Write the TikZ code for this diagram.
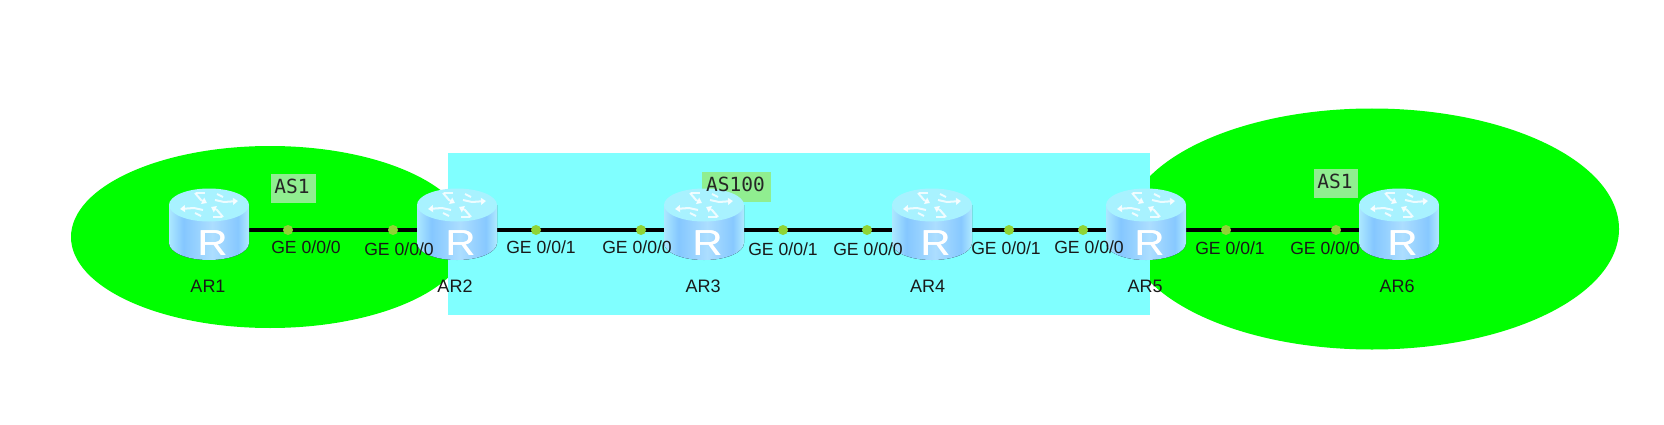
\documentclass[tikz,border=0pt]{standalone}
\usepackage{fontspec}
\setmainfont{Liberation Sans}
\newfontfamily\monofam{DejaVu Sans Mono}
\usetikzlibrary{arrows.meta}
\definecolor{zonegreen}{HTML}{00FF00}
\definecolor{zonecyan}{HTML}{80FFFF}
\definecolor{tagbg}{HTML}{90EE90}
\definecolor{portc}{HTML}{8FD435}
\definecolor{rtop}{HTML}{A8F2FF}
\pgfdeclarehorizontalshading{rbody}{100bp}{
  rgb(0bp)=(.675,.91,1);
  rgb(25bp)=(.675,.91,1);
  rgb(34bp)=(.52,.78,1);
  rgb(52bp)=(.675,.87,1);
  rgb(68bp)=(.53,.785,1);
  rgb(75bp)=(.69,.92,1);
  rgb(100bp)=(.69,.92,1)}
\tikzset{
  anchorbox/.style={minimum width=80pt,minimum height=16pt,inner sep=0pt,outer sep=0pt},
  link/.style={black,line width=3.3pt},
  portdot/.style={circle,fill=portc,minimum size=10pt,inner sep=0pt,outer sep=0pt},
  portlabel/.style={font=\fontsize{17.6}{20}\selectfont,inner sep=0pt,text=black!90},
  devlabel/.style={font=\fontsize{18}{20}\selectfont,inner sep=0pt,text=black!90},
  astag/.style={fill=tagbg,inner sep=0pt},
  astext/.style={inner sep=0pt,font=\monofam\fontsize{19.5}{22}\selectfont,text=black!85},
  rarrow/.style={white,opacity=.8,line width=2pt,-{Triangle[length=5pt,width=7pt]}},
  rstroke/.style={white,opacity=.8,line width=2pt},
  rletter/.style={text=white,inner sep=0pt,font=\fontsize{36}{36}\selectfont,xscale=1.15},
}
\newcommand{\routergfx}[1]{%
  \begin{scope}[shift={(#1)}]
    \fill[shading=rbody]
      (-40,-25) -- (-40,13) arc[start angle=180,end angle=0,x radius=40,y radius=17] -- (40,-25) -- cycle;
    \fill[rtop] (0,-25) ellipse[x radius=40,y radius=16.5];
    \draw[rarrow] (6,-30) -- (15,-28) -- (29,-29);
    \draw[rarrow] (-6,-20) -- (-15,-22) -- (-29,-21);
    \draw[rarrow] (-14,-37) -- (-8,-30) -- (-2,-27);
    \draw[rarrow] (14,-13) -- (8,-20) -- (2,-23);
    \draw[rstroke] (-13,-37) -- (-4,-37);
    \draw[rstroke] (13,-13) -- (4,-13);
    \draw[rstroke] (8,-36) -- (14,-33);
    \draw[rstroke] (-8,-14) -- (-14,-17);
    \node[rletter] at (3.3,13) {R};
    \node[rletter] at (3.9,13) {R};
  \end{scope}}
\begin{document}
\begin{tikzpicture}[x=1pt,y=-1pt]
\useasboundingbox (0,0) rectangle (1664,425);
\fill[white] (0,0) rectangle (1664,425);
\fill[zonegreen] (270,237) ellipse[x radius=199,y radius=91];
\fill[zonegreen] (1372,229) ellipse[x radius=247,y radius=120.5];
\fill[zonecyan] (448,153) rectangle (1150,315);

\node[astag,minimum width=45pt,minimum height=29pt] (tag1) at (293.5,188.5) {};
\node[astag,minimum width=69pt,minimum height=30pt] (tag2) at (736.5,187) {};
\node[astag,minimum width=44pt,minimum height=29pt] (tag3) at (1336,183.5) {};

\node[anchorbox] (AR1) at (209,230) {};
\node[anchorbox] (AR2) at (457,230) {};
\node[anchorbox] (AR3) at (704,230) {};
\node[anchorbox] (AR4) at (932,230) {};
\node[anchorbox] (AR5) at (1146,230) {};
\node[anchorbox] (AR6) at (1399,230) {};

\draw[link] (AR1.east) -- (AR2.west);
\draw[link] (AR2.east) -- (AR3.west);
\draw[link] (AR3.east) -- (AR4.west);
\draw[link] (AR4.east) -- (AR5.west);
\draw[link] (AR5.east) -- (AR6.west);

\routergfx{209,230}
\routergfx{457,230}
\routergfx{704,230}
\routergfx{932,230}
\routergfx{1146,230}
\routergfx{1399,230}

\node[astext] (t1) at (292,186.5) {AS1};
\node[astext] (t2) at (735.5,184.5) {AS100};
\node[astext] (t3) at (1335,181.5) {AS1};

\foreach \n/\x in {p1/288,p2/393,p3/536,p4/641,p5/783,p6/867,p7/1009,p8/1083,p9/1226,p10/1336}
  \node[portdot] (\n) at (\x,230) {};

\node[portlabel] (l1) at (306,247) {GE 0/0/0};
\node[portlabel] (l2) at (399,249) {GE 0/0/0};
\node[portlabel] (l3) at (541,247) {GE 0/0/1};
\node[portlabel] (l4) at (637,247) {GE 0/0/0};
\node[portlabel] (l5) at (783,249) {GE 0/0/1};
\node[portlabel] (l6) at (868,249) {GE 0/0/0};
\node[portlabel] (l7) at (1006,248) {GE 0/0/1};
\node[portlabel] (l8) at (1089,247) {GE 0/0/0};
\node[portlabel] (l9) at (1230,248) {GE 0/0/1};
\node[portlabel] (l10) at (1325,248) {GE 0/0/0};

\node[devlabel] (n1) at (208,286) {AR1};
\node[devlabel] (n2) at (455,286) {AR2};
\node[devlabel] (n3) at (703,286) {AR3};
\node[devlabel] (n4) at (927.5,286) {AR4};
\node[devlabel] (n5) at (1145,286) {AR5};
\node[devlabel] (n6) at (1397,286) {AR6};
\end{tikzpicture}
\end{document}
